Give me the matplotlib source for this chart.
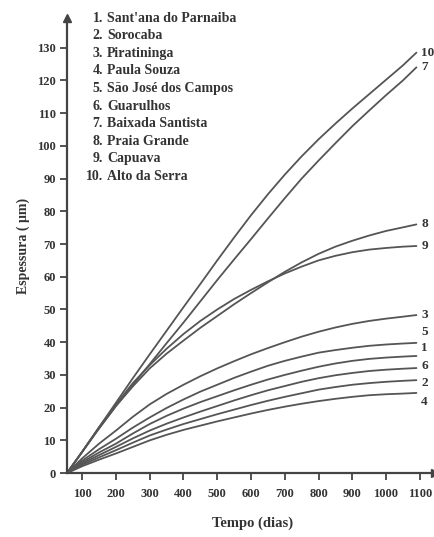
import numpy as np
import matplotlib.pyplot as plt

# tempo (dias) e espessura (um) lidas para cada local
dias = [55, 100, 150, 200, 250, 300, 350, 400, 450, 500, 550,
        600, 650, 700, 750, 800, 850, 900, 950, 1000, 1050, 1090]

espessura = {
    1: [0, 3.3, 6.3, 9.0, 12.1, 15.0, 17.5, 19.7, 21.7, 23.5, 25.3,
        27.0, 28.6, 30.0, 31.3, 32.5, 33.5, 34.3, 34.9, 35.3, 35.6, 35.8],
    2: [0, 2.5, 4.8, 7.0, 9.3, 11.5, 13.3, 15.0, 16.5, 18.0, 19.4,
        20.8, 22.1, 23.3, 24.4, 25.5, 26.3, 27.0, 27.5, 27.9, 28.2, 28.4],
    3: [0, 4.5, 9.0, 13.0, 17.2, 21.0, 24.2, 27.0, 29.6, 32.0, 34.2,
        36.3, 38.2, 40.0, 41.7, 43.2, 44.5, 45.6, 46.5, 47.2, 47.8, 48.3],
    4: [0, 2.1, 4.1, 6.0, 8.0, 10.0, 11.7, 13.2, 14.5, 15.8, 17.0,
        18.2, 19.3, 20.3, 21.2, 22.0, 22.7, 23.3, 23.8, 24.1, 24.3, 24.5],
    5: [0, 3.8, 7.3, 10.5, 13.9, 17.0, 19.9, 22.5, 24.9, 27.0, 29.1,
        31.0, 32.8, 34.3, 35.6, 36.8, 37.6, 38.3, 38.9, 39.3, 39.6, 39.8],
    6: [0, 2.9, 5.5, 8.0, 10.6, 13.0, 15.1, 17.0, 18.8, 20.5, 22.2,
        23.8, 25.3, 26.6, 27.9, 29.0, 29.9, 30.6, 31.2, 31.6, 31.9, 32.1],
    7: [0, 6.5, 13.6, 20.5, 27.0, 33.3, 39.7, 46.0, 52.5, 59.0, 65.3,
        71.5, 77.8, 84.0, 90.0, 95.5, 100.8, 106.0, 110.8, 115.5, 120.0, 124.0],
    8: [0, 6.5, 13.8, 20.5, 26.5, 32.0, 36.5, 40.5, 44.4, 48.0, 51.6,
        55.0, 58.3, 61.5, 64.4, 67.0, 69.2, 71.0, 72.6, 74.0, 75.1, 76.0],
    9: [0, 6.5, 14.0, 21.0, 27.5, 33.0, 38.0, 42.5, 46.5, 50.0, 53.2,
        56.0, 58.6, 61.0, 63.1, 65.0, 66.4, 67.5, 68.3, 68.8, 69.2, 69.4],
    10: [0, 6.5, 14.0, 21.5, 29.0, 36.3, 43.5, 50.7, 57.8, 65.0, 72.0,
         78.8, 85.2, 91.2, 96.8, 102.0, 106.8, 111.4, 115.8, 120.2, 124.6, 128.5],
}

locais = ["Sant'ana do Parnaiba", "Sorocaba", "Piratininga", "Paula Souza",
          "São José dos Campos", "Guarulhos", "Baixada Santista",
          "Praia Grande", "Capuava", "Alto da Serra"]

# altura dos rótulos no fim das curvas
rotulo_y = {10: 128.5, 7: 124.0, 8: 76.0, 9: 69.4, 3: 48.3,
            5: 43.1, 1: 38.3, 6: 32.6, 2: 27.4, 4: 21.6}

plt.rcParams['font.family'] = ['Liberation Serif', 'DejaVu Serif']

fig = plt.figure(figsize=(4.35, 5.37), dpi=100)
ax = fig.add_axes([0.154, 0.119, 0.846, 0.847])

cor = '#555555'
texto = '#333333'
for k, y in espessura.items():
    ax.plot(dias, y, color=cor, lw=1.3, solid_capstyle='round')
    ax.text(1104, rotulo_y[k], str(k), fontsize=9.5, fontweight='bold',
            color=texto, ha='left', va='center')

ax.set_xlim(55, 1145)
ax.set_ylim(0, 139)

for s in ['top', 'right']:
    ax.spines[s].set_visible(False)
for s in ['left', 'bottom']:
    ax.spines[s].set_color('#444444')
    ax.spines[s].set_linewidth(1.6)

# setas nos eixos
ax.plot(1, 0, '>', color='#444444', ms=6, transform=ax.get_yaxis_transform(), clip_on=False)
ax.plot(55, 1, '^', color='#444444', ms=6, transform=ax.get_xaxis_transform(), clip_on=False)

ax.set_xticks(np.arange(100, 1101, 100))
ax.set_yticks(np.arange(0, 131, 10))
ax.tick_params(axis='both', colors='#444444', labelcolor=texto, width=1.3,
               length=5, direction='out', labelsize=9)
ax.tick_params(axis='x', pad=6)
ax.tick_params(axis='y', pad=3)
for lb in ax.get_xticklabels() + ax.get_yticklabels():
    lb.set_fontweight('bold')

ax.set_ylabel('Espessura ( μm)', fontsize=10, fontweight='bold', color=texto)
ax.yaxis.set_label_coords(-0.10, 0.50)
ax.set_xlabel('Tempo (dias)', fontsize=10.5, fontweight='bold', color=texto)
ax.xaxis.set_label_coords(0.505, -0.095)

# legenda numerada no canto superior
for i, nome in enumerate(locais):
    ypix = 18 + i * 17.6
    yf = 1 - ypix / 537
    fig.text(103 / 435, yf, f'{i + 1}.', fontsize=10, fontweight='bold',
             color=texto, ha='right', va='center')
    fig.text(107 / 435, yf, nome, fontsize=10, fontweight='bold',
             color=texto, ha='left', va='center')

fig.savefig('out.png', dpi=100)
